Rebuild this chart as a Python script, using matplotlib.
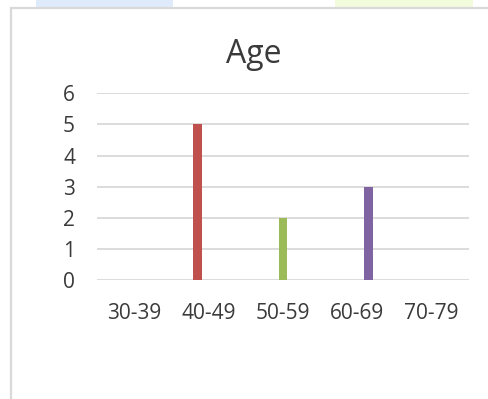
import matplotlib
matplotlib.use("Agg")
from matplotlib import pyplot as plt
from matplotlib.patches import Rectangle
from matplotlib.lines import Line2D

plt.rcParams['font.family'] = ['Open Sans', 'DejaVu Sans']

age_groups = ["30-39", "40-49", "50-59", "60-69", "70-79"]
counts = [0, 5, 2, 3, 0]
series_colors = ["#4F81BD", "#C0504D", "#9BBB59", "#8064A2", "#4BACC6"]

W, H = 488, 399
fig = plt.figure(figsize=(W / 100, H / 100), dpi=100)

# strips of the neighbouring cells above the chart
fig.add_artist(Rectangle((36 / W, 1 - 7 / H), (173 - 36) / W, 7 / H,
                         transform=fig.transFigure, color="#dfeafb", lw=0))
fig.add_artist(Rectangle((335 / W, 1 - 7 / H), (473 - 335) / W, 7 / H,
                         transform=fig.transFigure, color="#f3fbdd", lw=0))

# chart frame (left and top edges)
fig.add_artist(Line2D([11 / W, 11 / W], [0, 1 - 7.5 / H],
                      transform=fig.transFigure, color="#d9d9d9", lw=1.6))
fig.add_artist(Line2D([11 / W, 1], [1 - 7.5 / H, 1 - 7.5 / H],
                      transform=fig.transFigure, color="#d9d9d9", lw=1.6))

ax = fig.add_axes([97.3 / W, 1 - 280.3 / H, 371.4 / W, 187 / H])

# one series per age group, clustered like a spreadsheet chart
n = len(age_groups)
step = 0.148
width = 0.117
for i, (g, c) in enumerate(zip(age_groups, counts)):
    x = i + 0.5 + (i - (n - 1) / 2) * step
    ax.bar(x, c, width=width, color=series_colors[i], linewidth=0, zorder=3)

ax.set_xlim(0, n)
ax.set_ylim(0, 6)
ax.set_yticks(range(7))
ax.set_xticks([i + 0.5 for i in range(n)])
ax.set_xticklabels(age_groups)
ax.yaxis.grid(True, color="#d9d9d9", lw=1.3, zorder=0)
ax.set_axisbelow(True)
for s in ax.spines.values():
    s.set_visible(False)
ax.tick_params(axis="both", length=0, labelsize=15, colors="#3a3a3a")
ax.tick_params(axis="y", pad=16)
ax.tick_params(axis="x", pad=16)

fig.text(254 / W, 1 - 63 / H, "Age", ha="center", va="baseline",
         fontsize=23, color="#3a3a3a")

fig.savefig("out.png", dpi=100)
